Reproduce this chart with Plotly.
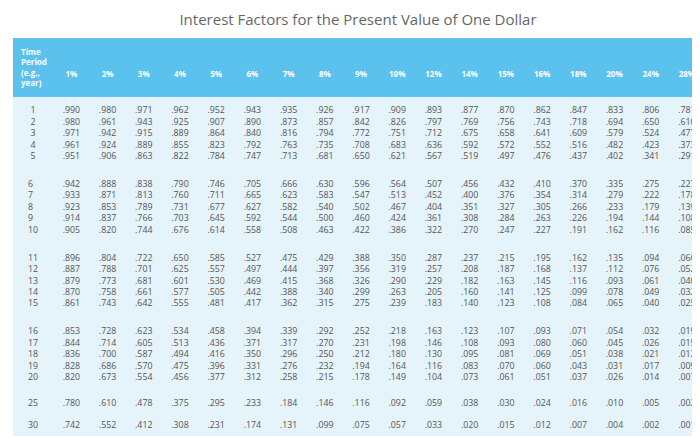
import plotly.graph_objects as go

periods = [1, 2, 3, 4, 5, 6, 7, 8, 9, 10, 11, 12, 13, 14, 15, 16, 17, 18, 19, 20, 25, 30]
rates = ["1%", "2%", "3%", "4%", "5%", "6%", "7%", "8%", "9%", "10%",
         "12%", "14%", "15%", "16%", "18%", "20%", "24%", "28%"]

r01 = [".990", ".980", ".971", ".961", ".951", ".942", ".933", ".923", ".914", ".905", ".896", ".887", ".879", ".870", ".861", ".853", ".844", ".836", ".828", ".820", ".780", ".742"]
r02 = [".980", ".961", ".942", ".924", ".906", ".888", ".871", ".853", ".837", ".820", ".804", ".788", ".773", ".758", ".743", ".728", ".714", ".700", ".686", ".673", ".610", ".552"]
r03 = [".971", ".943", ".915", ".889", ".863", ".838", ".813", ".789", ".766", ".744", ".722", ".701", ".681", ".661", ".642", ".623", ".605", ".587", ".570", ".554", ".478", ".412"]
r04 = [".962", ".925", ".889", ".855", ".822", ".790", ".760", ".731", ".703", ".676", ".650", ".625", ".601", ".577", ".555", ".534", ".513", ".494", ".475", ".456", ".375", ".308"]
r05 = [".952", ".907", ".864", ".823", ".784", ".746", ".711", ".677", ".645", ".614", ".585", ".557", ".530", ".505", ".481", ".458", ".436", ".416", ".396", ".377", ".295", ".231"]
r06 = [".943", ".890", ".840", ".792", ".747", ".705", ".665", ".627", ".592", ".558", ".527", ".497", ".469", ".442", ".417", ".394", ".371", ".350", ".331", ".312", ".233", ".174"]
r07 = [".935", ".873", ".816", ".763", ".713", ".666", ".623", ".582", ".544", ".508", ".475", ".444", ".415", ".388", ".362", ".339", ".317", ".296", ".276", ".258", ".184", ".131"]
r08 = [".926", ".857", ".794", ".735", ".681", ".630", ".583", ".540", ".500", ".463", ".429", ".397", ".368", ".340", ".315", ".292", ".270", ".250", ".232", ".215", ".146", ".099"]
r09 = [".917", ".842", ".772", ".708", ".650", ".596", ".547", ".502", ".460", ".422", ".388", ".356", ".326", ".299", ".275", ".252", ".231", ".212", ".194", ".178", ".116", ".075"]
r10 = [".909", ".826", ".751", ".683", ".621", ".564", ".513", ".467", ".424", ".386", ".350", ".319", ".290", ".263", ".239", ".218", ".198", ".180", ".164", ".149", ".092", ".057"]
r12 = [".893", ".797", ".712", ".636", ".567", ".507", ".452", ".404", ".361", ".322", ".287", ".257", ".229", ".205", ".183", ".163", ".146", ".130", ".116", ".104", ".059", ".033"]
r14 = [".877", ".769", ".675", ".592", ".519", ".456", ".400", ".351", ".308", ".270", ".237", ".208", ".182", ".160", ".140", ".123", ".108", ".095", ".083", ".073", ".038", ".020"]
r15 = [".870", ".756", ".658", ".572", ".497", ".432", ".376", ".327", ".284", ".247", ".215", ".187", ".163", ".141", ".123", ".107", ".093", ".081", ".070", ".061", ".030", ".015"]
r16 = [".862", ".743", ".641", ".552", ".476", ".410", ".354", ".305", ".263", ".227", ".195", ".168", ".145", ".125", ".108", ".093", ".080", ".069", ".060", ".051", ".024", ".012"]
r18 = [".847", ".718", ".609", ".516", ".437", ".370", ".314", ".266", ".226", ".191", ".162", ".137", ".116", ".099", ".084", ".071", ".060", ".051", ".043", ".037", ".016", ".007"]
r20 = [".833", ".694", ".579", ".482", ".402", ".335", ".279", ".233", ".194", ".162", ".135", ".112", ".093", ".078", ".065", ".054", ".045", ".038", ".031", ".026", ".010", ".004"]
r24 = [".806", ".650", ".524", ".423", ".341", ".275", ".222", ".179", ".144", ".116", ".094", ".076", ".061", ".049", ".040", ".032", ".026", ".021", ".017", ".014", ".005", ".002"]
r28 = [".781", ".610", ".477", ".373", ".291", ".227", ".178", ".139", ".108", ".085", ".066", ".052", ".040", ".032", ".025", ".019", ".015", ".012", ".009", ".007", ".002", ".001"]

columns = [periods, r01, r02, r03, r04, r05, r06, r07, r08, r09, r10,
           r12, r14, r15, r16, r18, r20, r24, r28]

# rows are printed in blocks (1-5, 6-10, 11-15, 16-20, 25, 30); one table row per block
groups = [(0, 5), (5, 10), (10, 15), (15, 20), (20, 21), (21, 22)]


def blocks(col):
    return ["<br>".join(str(v) for v in col[a:b]) for a, b in groups]


header = ["<b>Time<br>Period<br>(e.g.,<br>year)</b>"] + [f"<br><br><br><b>{r}</b>" for r in rates]
cells = [blocks(c) for c in columns]

fig = go.Figure(go.Table(
    columnwidth=[40] + [36] * len(rates),
    header=dict(values=header, fill_color="#5bc2ee", line_color="#5bc2ee",
                font=dict(family="Open Sans", size=8, color="white"),
                align=["left"] + ["center"] * len(rates), height=50),
    cells=dict(values=cells, fill_color="#e5f3fb", line_color="#e5f3fb",
               font=dict(family="Open Sans", size=8.8, color="#555555"),
               align=["center"] * (len(rates) + 1), height=22),
))
fig.update_layout(
    width=700, height=438, paper_bgcolor="white",
    margin=dict(l=5, r=3, t=30, b=0),
    title=dict(text="Interest Factors for the Present Value of One Dollar", x=0.5, y=0.985,
               font=dict(family="Open Sans", size=15, color="#666666")),
)
fig.write_html("out.html")
